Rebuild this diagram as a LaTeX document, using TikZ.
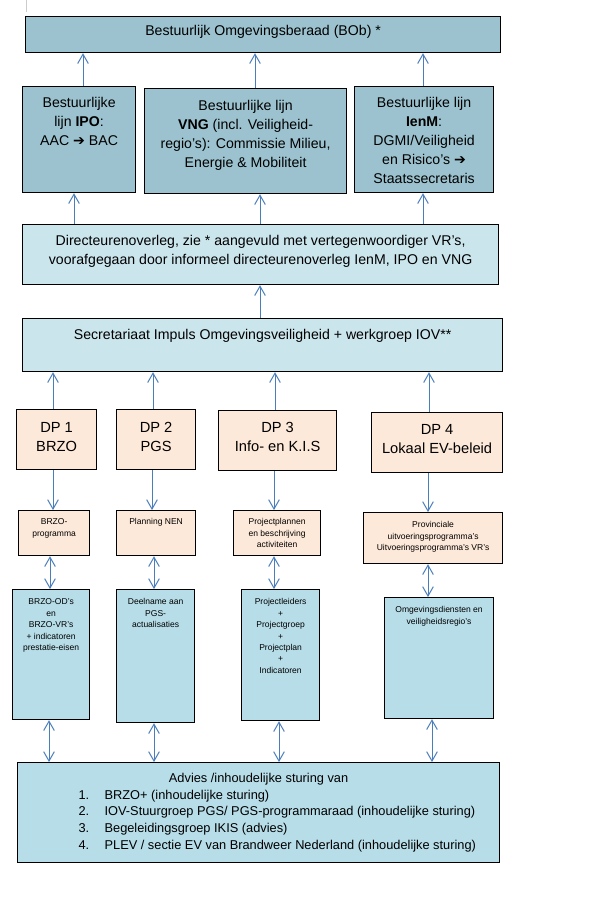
\documentclass[tikz,border=0pt]{standalone}
\usepackage{fontspec}
\setmainfont{Liberation Sans}
\newfontfamily\arrowfont{DejaVu Sans}
\usetikzlibrary{arrows.meta}
\newdimen\px \px=0.75pt
\definecolor{cdark}{RGB}{155,194,206}
\definecolor{clight}{RGB}{203,229,236}
\definecolor{corange}{RGB}{253,233,217}
\definecolor{cblue}{RGB}{183,221,232}
\definecolor{carrow}{RGB}{74,126,187}
\newcommand\myarrow{{\arrowfont ➔}}
\newcommand\bigf{\fontsize{10.6pt}{14.25pt}\selectfont}
\newcommand\dpf{\fontsize{11pt}{13.9pt}\selectfont}
\newcommand\smallf{\fontsize{6.4pt}{8.6pt}\selectfont}
\newcommand\botf{\fontsize{9.6pt}{12.5pt}\selectfont}
\newcommand\bbox[4]{\parbox[t][#2\px][t]{#1\px}{\centering\rule{0pt}{#3\px}#4\par}}
\tikzset{
  box/.style={draw=black, line width=0.9pt, inner sep=0pt, anchor=north west},
  arr/.style={draw=carrow, line width=0.75pt, -{Straight Barb[length=7pt,width=8pt]}},
  darr/.style={draw=carrow, line width=0.75pt, {Straight Barb[length=7pt,width=8pt]}-{Straight Barb[length=7pt,width=8pt]}}
}
\begin{document}
\begin{tikzpicture}[x=0.75pt,y=-0.75pt]
\useasboundingbox (0,0) rectangle (616,900);
\draw[black!20, line width=0.75pt] (26,0) -- (26,12);
% top
\node[box, fill=cdark, font=\bigf] (bob) at (25,16) {\bbox{475}{36}{19}{Bestuurlijk Omgevingsberaad (BOb) *}};
\node[box, fill=cdark, font=\bigf] (ipo) at (22,86) {\bbox{113}{106}{21}{Bestuurlijke\\ lijn \textbf{IPO}:\\ AAC \myarrow\ BAC}};
\node[box, fill=cdark, font=\bigf] (vng) at (144,88) {\bbox{202}{105}{22}{Bestuurlijke lijn\\ \textbf{VNG} (incl. Veiligheid-\\ regio’s): Commissie Milieu,\\ Energie \& Mobiliteit}};
\node[box, fill=cdark, font=\bigf] (ienm) at (354,86) {\bbox{139}{106}{21}{Bestuurlijke lijn\\ \textbf{IenM}:\\ DGMI/Veiligheid\\ en Risico's \myarrow\\ Staatssecretaris}};
\node[box, fill=clight, font=\bigf] (dir) at (22,224) {\bbox{476}{60}{21}{Directeurenoverleg, zie * aangevuld met vertegenwoordiger VR’s,\\ voorafgegaan door informeel directeurenoverleg IenM, IPO en VNG}};
\node[box, fill=clight, font=\bigf] (sec) at (22,318) {\bbox{480}{53}{21}{Secretariaat Impuls Omgevingsveiligheid + werkgroep IOV**}};
% DP row
\node[box, fill=corange, font=\dpf] (dp1) at (16,409) {\bbox{80}{60}{23}{DP 1\\ BRZO}};
\node[box, fill=corange, font=\dpf] (dp2) at (116,409) {\bbox{79}{60}{23}{DP 2\\ PGS}};
\node[box, fill=corange, font=\dpf] (dp3) at (218,410) {\bbox{118}{60}{22}{DP 3\\ Info- en K.I.S}};
\node[box, fill=corange, font=\dpf] (dp4) at (371,412) {\bbox{131}{60}{22}{DP 4\\ Lokaal EV-beleid}};
% small orange
\node[box, fill=corange, font=\smallf] (s1) at (18,510) {\bbox{71}{45}{14}{BRZO-\\ programma}};
\node[box, fill=corange, font=\smallf] (s2) at (116,510) {\bbox{79}{45}{14}{Planning NEN}};
\node[box, fill=corange, font=\smallf] (s3) at (233,510) {\bbox{87}{45}{14}{Projectplannen\\ en beschrijving\\ activiteiten}};
\node[box, fill=corange, font=\smallf] (s4) at (363,512) {\bbox{139}{51}{15}{Provinciale\\ uitvoeringsprogramma's\\ Uitvoeringsprogramma's VR’s}};
% blue
\node[box, fill=cblue, font=\smallf] (b1) at (12,589) {\bbox{77}{130}{15}{BRZO-OD’s\\ en\\ BRZO-VR’s\\ + indicatoren\\ prestatie-eisen}};
\node[box, fill=cblue, font=\smallf] (b2) at (116,589) {\bbox{78}{133}{15}{Deelname aan\\ PGS-\\ actualisaties}};
\node[box, fill=cblue, font=\smallf] (b3) at (241,589) {\bbox{78}{131}{15}{Projectleiders\\ +\\ Projectgroep\\ +\\ Projectplan\\ +\\ Indicatoren}};
\node[box, fill=cblue, font=\smallf] (b4) at (384,597) {\bbox{109}{121}{15}{Omgevingsdiensten en\\ veiligheidsregio’s}};
% bottom
\node[box, fill=cblue, font=\botf] (bot) at (17,762) {\parbox[t][100\px][t]{482\px}{%
{\centering\rule{0pt}{20\px}Advies /inhoudelijke sturing van\par}
\raggedright
\hspace*{61\px}\makebox[26\px][l]{1.}BRZO+ (inhoudelijke sturing)\par
\hspace*{61\px}\makebox[26\px][l]{2.}IOV-Stuurgroep PGS/ PGS-programmaraad (inhoudelijke sturing)\par
\hspace*{61\px}\makebox[26\px][l]{3.}Begeleidingsgroep IKIS (advies)\par
\hspace*{61\px}\makebox[26\px][l]{4.}PLEV / sectie EV van Brandweer Nederland (inhoudelijke sturing)\par}};
% arrows up
\draw[arr] (83,0 |- ipo.north) -- (83,0 |- bob.south);
\draw[arr] (255,0 |- vng.north) -- (255,0 |- bob.south);
\draw[arr] (423,0 |- ienm.north) -- (423,0 |- bob.south);
\draw[arr] (74,0 |- dir.north) -- (74,0 |- ipo.south);
\draw[arr] (260,0 |- dir.north) -- (260,0 |- vng.south);
\draw[arr] (423,0 |- dir.north) -- (423,0 |- ienm.south);
\draw[arr] (260,0 |- sec.north) -- (260,0 |- dir.south);
\draw[arr] (53,0 |- dp1.north) -- (53,0 |- sec.south);
\draw[arr] (153,0 |- dp2.north) -- (153,0 |- sec.south);
\draw[arr] (275,0 |- dp3.north) -- (275,0 |- sec.south);
\draw[arr] (429,0 |- dp4.north) -- (429,0 |- sec.south);
% arrows down
\draw[arr] (53,0 |- dp1.south) -- (53,0 |- s1.north);
\draw[arr] (152,0 |- dp2.south) -- (152,0 |- s2.north);
\draw[arr] (274,0 |- dp3.south) -- (274,0 |- s3.north);
\draw[arr] (428,0 |- dp4.south) -- (428,0 |- s4.north);
% double arrows
\draw[darr] (50,0 |- s1.south) -- (50,0 |- b1.north);
\draw[darr] (154,0 |- s2.south) -- (154,0 |- b2.north);
\draw[darr] (274,0 |- s3.south) -- (274,0 |- b3.north);
\draw[darr] (428,0 |- s4.south) -- (428,0 |- b4.north);
\draw[darr] (49,0 |- b1.south) -- (49,0 |- bot.north);
\draw[darr] (154,0 |- b2.south) -- (154,0 |- bot.north);
\draw[darr] (279,0 |- b3.south) -- (279,0 |- bot.north);
\draw[darr] (432,0 |- b4.south) -- (432,0 |- bot.north);
\end{tikzpicture}
\end{document}
